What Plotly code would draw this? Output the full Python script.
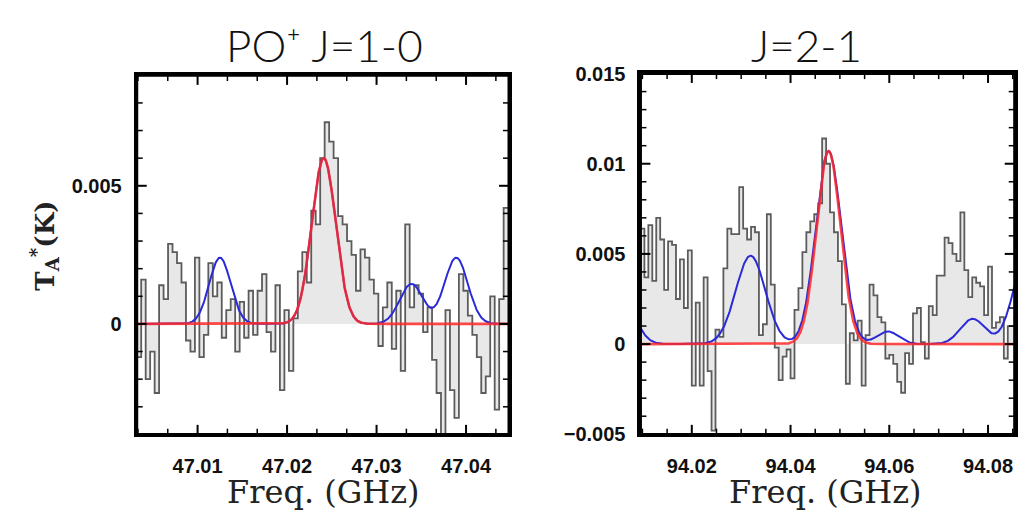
import numpy as np
import plotly.graph_objects as go

# ---------------- data ----------------
left_start = 47.0032
left_chan = 0.0005
left_vals = [
    -0.0012, 0.0016, -0.0020, -0.0010, -0.0025, 0.0014, 0.0009, 0.0029, 0.0026, 0.0022,
    0.0015, -0.0006, -0.0010, 0.0024, -0.0012, -0.0004, 0.0022, 0.0010, 0.0015, -0.0005,
    0.0005, 0.0009, -0.0010, 0.0008, -0.0005, 0.0012, -0.0004, 0.0012, 0.0018, -0.0003,
    -0.0010, 0.0014, -0.0024, 0.0005, -0.0017, 0.0002, 0.0019, 0.0026, 0.0015, 0.0041,
    0.0036, 0.0060, 0.0073, 0.0066, 0.0060, 0.0039, 0.0036, 0.0030, 0.0025, 0.0012,
    0.0027, 0.0024, 0.0016, 0.0011, -0.0008, 0.0006, 0.0015, -0.0009, 0.0012, -0.0017,
    0.0036, 0.0006, 0.0014, 0.0011, -0.0003, 0.0006, -0.0013, -0.0025, -0.0043, 0.0005,
    -0.0024, -0.0034, 0.0018, 0.0012, 0.0003, -0.0004, -0.0012, -0.0025, -0.0019, 0.0010,
    -0.0031, 0.0009, 0.0042, 0.0042,
]
left_fit_center, left_fit_amp, left_fit_sigma = 47.0241, 0.0060, 0.00134
left_model_centers = [47.0125, 47.0241, 47.0339, 47.0389]
left_model_amps = [0.0024, 0.0060, 0.00145, 0.0024]
left_model_sigmas = [0.0012, 0.00134, 0.0013, 0.0013]

right_start = 94.0096
right_chan = 0.0008
right_vals = [
    0.0064, 0.0037, 0.0066, 0.0035, 0.0070, 0.0058, 0.0030, 0.0057, 0.0055, 0.0025,
    0.0047, 0.0020, 0.0052, -0.0023, 0.0023, -0.0023, 0.0037, -0.0015, -0.0048, 0.0008,
    0.0004, 0.0042, 0.0064, 0.0061, 0.0061, 0.0087, 0.0064, 0.0058, 0.0065, 0.0062,
    0.0005, 0.0011, 0.0072, 0.0033, -0.0002, -0.0020, -0.0007, -0.0003, -0.0019, 0.0019,
    0.0031, 0.0051, 0.0062, 0.0068, 0.0072, 0.0078, 0.0114, 0.0100, 0.0073, 0.0062,
    0.0046, 0.0022, -0.0022, 0.0006, 0.0002, 0.0013, -0.0023, 0.0005, 0.0033, 0.0027,
    0.0015, 0.0012, -0.0008, -0.0006, -0.0011, -0.0021, -0.0027, -0.0005, -0.0011, 0.0017,
    0.0020, 0.0001, -0.0008, 0.0021, 0.0016, 0.0038, 0.0038, 0.0059, 0.0056, 0.0050,
    0.0046, 0.0073, 0.0041, 0.0026, 0.0037, 0.0034, 0.0032, 0.0016, 0.0043, 0.0009,
    0.0012, 0.0015, -0.0008, 0.0010, 0.0010,
]
right_fit_center, right_fit_amp, right_fit_sigma = 94.0477, 0.0107, 0.00243
right_model_centers = [94.005, 94.0319, 94.0477, 94.0597, 94.0769, 94.088]
right_model_amps = [0.0035, 0.0049, 0.0107, 0.0007, 0.0014, 0.0050]
right_model_sigmas = [0.0028, 0.0030, 0.0026, 0.0022, 0.0025, 0.0028]

left_xrange = [47.0032, 47.0448]
right_xrange = [94.0096, 94.0854]
left_yrange = [-0.004, 0.009]
right_yrange = [-0.00501, 0.01501]

# axis tick spacing (major, minor)
left_xticks = (0.01, 0.01 / 3)
left_yticks = (0.005, 0.001)
right_xticks = (0.02, 0.005)
right_yticks = (0.005, 0.001)

titles = ["PO\u207a J=1-0", "J=2-1"]
xtitle = "Freq. (GHz)"
ytitle = "T<sub>A</sub><sup>*</sup>(K)"

def gauss_sum(x, centers, amps, sigmas):
    y = np.zeros_like(x)
    for c, a, s in zip(centers, amps, sigmas):
        y += a * np.exp(-0.5 * ((x - c) / s) ** 2)
    return y

def step_xy(start, width, vals):
    x = [start + i * width for i in range(len(vals))] + [start + len(vals) * width]
    y = list(vals) + [vals[-1]]
    return x, y

def tick_positions(rng, step):
    k0 = int(np.ceil(rng[0] / step - 1e-6))
    k1 = int(np.floor(rng[1] / step + 1e-6))
    return [k * step for k in range(k0, k1 + 1)]

W, H = 1021, 526
M = 3
PW, PH = W - 2 * M, H - 2 * M
def dx(a, b):
    return [(a - M) / PW, (b - M) / PW]
def dy(top, bottom):
    return [(H - bottom - M) / PH, (H - top - M) / PH]

fig = go.Figure()

FILL = "#e8e8e8"
LINE = "#5c5c5c"
BLUE = "#2a2ad8"
RED = "rgba(255,40,40,0.85)"

panels = [
    dict(xa="x", ya="y", start=left_start, chan=left_chan, vals=left_vals,
         fit=(left_fit_center, left_fit_amp, left_fit_sigma),
         model=(left_model_centers, left_model_amps, left_model_sigmas),
         xr=left_xrange, yr=left_yrange, xt=left_xticks, yt=left_yticks,
         xd=dx(137, 510), yd=dy(67, 442)),
    dict(xa="x2", ya="y2", start=right_start, chan=right_chan, vals=right_vals,
         fit=(right_fit_center, right_fit_amp, right_fit_sigma),
         model=(right_model_centers, right_model_amps, right_model_sigmas),
         xr=right_xrange, yr=right_yrange, xt=right_xticks, yt=right_yticks,
         xd=dx(641.7, 1016.7), yd=dy(65, 442)),
]

MAJ_LEN, MIN_LEN = 10, 6
shapes = []

for p in panels:
    sx, sy = step_xy(p["start"], p["chan"], p["vals"])
    fig.add_trace(go.Scatter(x=sx, y=sy, mode="lines", line=dict(shape="hv", color=LINE, width=1.8),
                             fill="tozeroy", fillcolor=FILL, xaxis=p["xa"], yaxis=p["ya"],
                             showlegend=False, hoverinfo="skip"))
    xs = np.linspace(p["xr"][0], p["xr"][1], 800)
    fig.add_trace(go.Scatter(x=xs, y=gauss_sum(xs, *p["model"]), mode="lines",
                             line=dict(color=BLUE, width=2), xaxis=p["xa"], yaxis=p["ya"],
                             showlegend=False, hoverinfo="skip"))
    c, a, s = p["fit"]
    fig.add_trace(go.Scatter(x=xs, y=gauss_sum(xs, [c], [a], [s]), mode="lines",
                             line=dict(color=RED, width=2.6), xaxis=p["xa"], yaxis=p["ya"],
                             showlegend=False, hoverinfo="skip"))

    (x0p, x1p), (y0p, y1p) = p["xd"], p["yd"]
    (xa0, xa1), (ya0, ya1) = p["xr"], p["yr"]
    # frame in paper coordinates (not clipped by the subplot)
    shapes.append(dict(type="rect", xref="paper", yref="paper", x0=x0p, x1=x1p, y0=y0p, y1=y1p,
                       line=dict(color="black", width=3), layer="above"))
    xmaj = tick_positions(p["xr"], p["xt"][0])
    for t in tick_positions(p["xr"], p["xt"][1]):
        major = any(abs(t - m) < 1e-7 for m in xmaj)
        L = (MAJ_LEN if major else MIN_LEN) / PH
        xp = x0p + (t - xa0) / (xa1 - xa0) * (x1p - x0p)
        for a0, a1 in ((y0p, y0p + L), (y1p - L, y1p)):
            shapes.append(dict(type="line", xref="paper", yref="paper", x0=xp, x1=xp, y0=a0, y1=a1,
                               line=dict(color="black", width=2 if major else 1.5), layer="above"))
    ymaj = tick_positions(p["yr"], p["yt"][0])
    for t in tick_positions(p["yr"], p["yt"][1]):
        major = any(abs(t - m) < 1e-9 for m in ymaj)
        L = (MAJ_LEN if major else MIN_LEN) / PW
        yp = y0p + (t - ya0) / (ya1 - ya0) * (y1p - y0p)
        for a0, a1 in ((x0p, x0p + L), (x1p - L, x1p)):
            shapes.append(dict(type="line", xref="paper", yref="paper", x0=a0, x1=a1, y0=yp, y1=yp,
                               line=dict(color="black", width=2 if major else 1.5), layer="above"))

tickfont = dict(family="Liberation Sans", size=20, color="#111", weight="bold")
axis_common = dict(showline=True, linewidth=3, linecolor="black", mirror=True, ticks="",
                   showgrid=False, zeroline=False, tickfont=tickfont)

fig.update_layout(
    width=W, height=H, margin=dict(l=M, r=M, t=M, b=M),
    paper_bgcolor="white", plot_bgcolor="white", shapes=shapes,
    xaxis=dict(domain=panels[0]["xd"], range=left_xrange, anchor="y",
               tick0=47.01, dtick=left_xticks[0], tickformat=".2f",
               ticklabelstandoff=12, **axis_common),
    yaxis=dict(domain=panels[0]["yd"], range=left_yrange, anchor="x",
               tick0=0, dtick=left_yticks[0], ticklabelstandoff=8, **axis_common),
    xaxis2=dict(domain=panels[1]["xd"], range=right_xrange, anchor="y2",
                tick0=94.02, dtick=right_xticks[0], tickformat=".2f",
                ticklabelstandoff=12, **axis_common),
    yaxis2=dict(domain=panels[1]["yd"], range=right_yrange, anchor="x2",
                tick0=0, dtick=right_yticks[0], ticklabelstandoff=8, **axis_common),
)

title_font = dict(family="Lato", size=44, color="#111", weight=300)
fig.add_annotation(text=titles[0], x=324 / W, y=1 - 33 / H, xref="paper", yref="paper",
                   showarrow=False, font=title_font, xanchor="center", yanchor="middle")
fig.add_annotation(text=titles[1], x=810 / W, y=1 - 33 / H, xref="paper", yref="paper",
                   showarrow=False, font=title_font, xanchor="center", yanchor="middle")

xt_font = dict(family="DejaVu Serif", size=32, color="#222")
fig.add_annotation(text=xtitle, x=323.5 / W, y=1 - 505 / H, xref="paper", yref="paper",
                   showarrow=False, font=xt_font, xanchor="center", yanchor="middle")
fig.add_annotation(text=xtitle, x=829 / W, y=1 - 505 / H, xref="paper", yref="paper",
                   showarrow=False, font=xt_font, xanchor="center", yanchor="middle")

fig.add_annotation(text=ytitle, x=42 / W, y=1 - 245 / H, xref="paper", yref="paper",
                   showarrow=False, textangle=-90,
                   font=dict(family="DejaVu Serif", size=26, color="#222", weight="bold"),
                   xanchor="center", yanchor="middle")

fig.write_html("out.html")
